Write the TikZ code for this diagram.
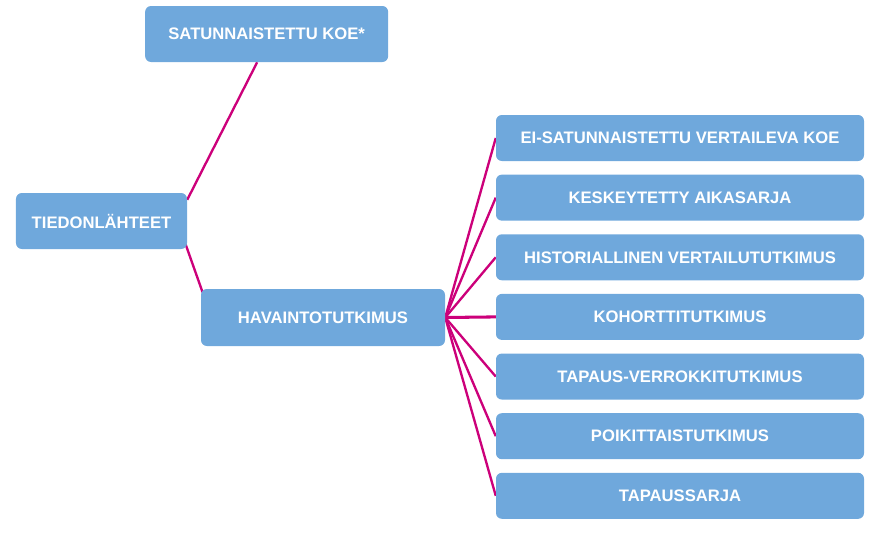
\documentclass[tikz,border=0pt]{standalone}
\usepackage{fontspec}
\setmainfont{Liberation Sans}
\usepackage{tikz}
\usetikzlibrary{positioning, backgrounds, calc}
\definecolor{boxblue}{RGB}{111,168,220}
\definecolor{linkpink}{RGB}{204,0,122}
\tikzset{
    mainbox/.style={rectangle, rounded corners=5pt, fill=boxblue, text=white, font=\fontsize{14.2}{16}\selectfont\bfseries, align=center, inner sep=2pt},
    typebox/.style={mainbox, minimum width=11.04cm, minimum height=1.38cm},
    link/.style={draw=linkpink, line width=2pt},
}

\begin{document}
\begin{tikzpicture}[
    node distance=0.395cm
]
\useasboundingbox (0,0) rectangle (26.43,-16.59);

% Root and first level
\node[mainbox, minimum width=5.13cm, minimum height=1.68cm] (tied) at (3.045,-6.63) {TIEDONLÄHTEET};
\node[mainbox, minimum width=7.29cm, minimum height=1.68cm] (rand) at (8.0,-1.02) {SATUNNAISTETTU KOE*};
\node[mainbox, minimum width=7.32cm, minimum height=1.71cm] (obs) at (9.69,-9.525) {HAVAINTOTUTKIMUS};

% Study types (right column)
\node[typebox] (nonrand) at (20.4,-4.14) {EI-SATUNNAISTETTU VERTAILEVA KOE};
\node[typebox, below=of nonrand] (its) {KESKEYTETTY AIKASARJA};
\node[typebox, below=of its] (hist) {HISTORIALLINEN VERTAILUTUTKIMUS};
\node[typebox, below=of hist] (cohort) {KOHORTTITUTKIMUS};
\node[typebox, below=of cohort] (casectl) {TAPAUS-VERROKKITUTKIMUS};
\node[typebox, below=of casectl] (cross) {POIKITTAISTUTKIMUS};
\node[typebox, below=of cross] (series) {TAPAUSSARJA};

% Connectors
\begin{scope}[on background layer]
\draw[link] ($(tied.north east)+(0,-0.21)$) -- ($(rand.south)+(-0.285,0)$);
\draw[link] ($(tied.south east)+(-0.06,0.18)$) -- ($(obs.north west)+(0.06,-0.12)$);
\draw[link] (obs.east) -- (nonrand.west);
\draw[link] (obs.east) -- (its.west);
\draw[link] (obs.east) -- (hist.west);
\draw[link, line width=2.6pt] (obs.east) -- (cohort.west);
\draw[link] (obs.east) -- (casectl.west);
\draw[link] (obs.east) -- (cross.west);
\draw[link] (obs.east) -- (series.west);
\end{scope}

\end{tikzpicture}
\end{document}
